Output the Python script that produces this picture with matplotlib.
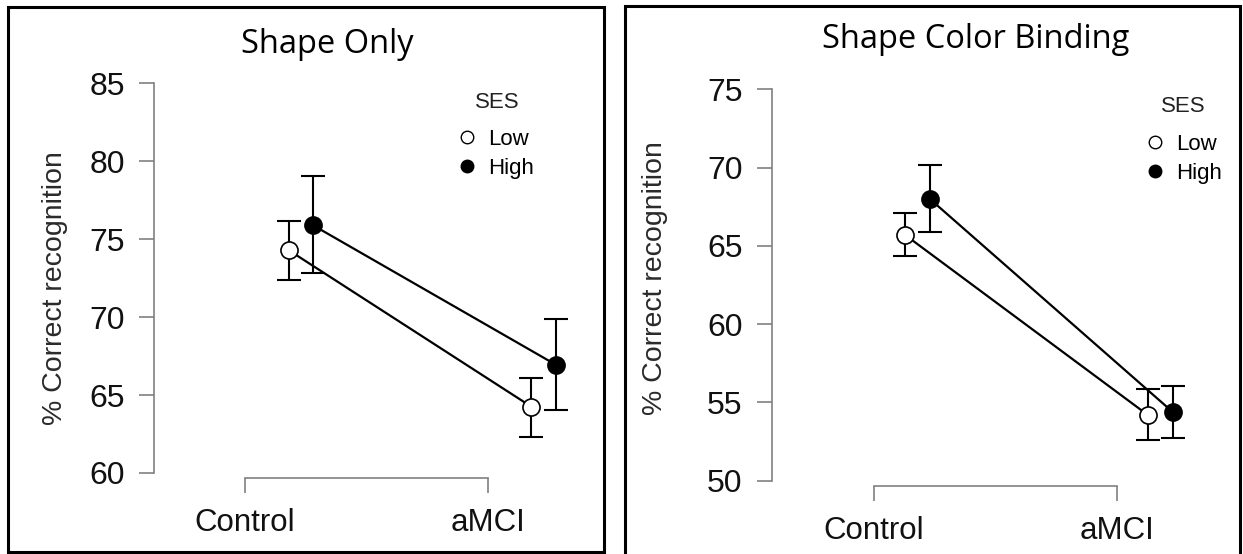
import numpy as np
import matplotlib
matplotlib.use('Agg')
import matplotlib.pyplot as plt
from matplotlib.lines import Line2D
from matplotlib.patches import Rectangle

plt.rcParams['font.family'] = ['Liberation Sans', 'DejaVu Sans']

# data
groups = ['Control', 'aMCI']
ses_levels = ['Low', 'High']

shape_low = [74.3, 64.25]
shape_low_lo = [72.35, 62.3]
shape_low_hi = [76.15, 66.1]
shape_high = [75.9, 66.95]
shape_high_lo = [72.85, 64.05]
shape_high_hi = [79.05, 69.85]

bind_low = [65.7, 54.2]
bind_low_lo = [64.35, 52.6]
bind_low_hi = [67.1, 55.85]
bind_high = [68.0, 54.4]
bind_high_lo = [65.9, 52.75]
bind_high_hi = [70.15, 56.05]

W, H = 1243, 554
fig = plt.figure(figsize=(W / 100, H / 100), dpi=100)


def box(x0, y0, x1, y1):
    # pixel box (top-left origin) -> figure fraction
    return [x0 / W, 1 - y1 / H, (x1 - x0) / W, (y1 - y0) / H]


def panel(ax, low, low_lo, low_hi, high, high_lo, high_hi, off_low, off_high):
    x = np.arange(len(groups))
    for vals, lo, hi, off, fc in [(low, low_lo, low_hi, off_low, 'white'),
                                  (high, high_lo, high_hi, off_high, 'black')]:
        v = np.array(vals)
        xs = x + off
        ax.errorbar(xs, v, yerr=[v - np.array(lo), np.array(hi) - v], fmt='none',
                    ecolor='k', elinewidth=1.5, capsize=8.8, capthick=1.5, zorder=1)
        ax.plot(xs, v, color='k', lw=1.6, zorder=2)
        ax.plot(xs, v, 'o', ms=12.3, mfc=fc, mec='k', mew=1.2, zorder=3)
    ax.set_xticks(x)
    ax.set_xticklabels(groups)
    for s in ['top', 'right']:
        ax.spines[s].set_visible(False)
    for s in ['left', 'bottom']:
        ax.spines[s].set_color('#808080')
        ax.spines[s].set_linewidth(1.2)
    ax.spines['bottom'].set_bounds(0, 1)
    ax.spines['bottom'].set_position(('outward', 3.5))
    ax.tick_params(axis='both', length=11, width=1.2, color='#808080', labelcolor='#111111')
    ax.tick_params(axis='y', pad=10, labelsize=23)
    ax.tick_params(axis='x', pad=11, labelsize=22.5)
    ax.set_facecolor('none')

    handles = [Line2D([], [], ls='none', marker='o', ms=9, mfc='white', mec='k', mew=1),
               Line2D([], [], ls='none', marker='o', ms=9, mfc='black', mec='k', mew=1)]
    return handles


# left panel: Shape Only
ax1 = fig.add_axes(box(154, 83.3, 597, 473))
h = panel(ax1, shape_low, shape_low_lo, shape_low_hi, shape_high, shape_high_lo, shape_high_hi, 0.18, 0.28)
ax1.set_xlim(-0.374, 1.45)
ax1.set_ylim(60, 85)
ax1.set_yticks([60, 65, 70, 75, 80, 85])
ax1.spines['left'].set_bounds(60, 85)
ax1.legend(h, ses_levels, loc='upper left',
           bbox_to_anchor=(455.5 / W, 1 - 129 / H), bbox_transform=fig.transFigure,
           frameon=False, fontsize=16, borderpad=0, borderaxespad=0,
           handlelength=1.0, handletextpad=0.45, labelspacing=0.35)
fig.text(497 / W, 1 - 102 / H, 'SES', ha='center', va='center', fontsize=16, color='#222222')

# right panel: Shape Color Binding
ax2 = fig.add_axes(box(771.7, 89.3, 1225.9, 480.7))
h = panel(ax2, bind_low, bind_low_lo, bind_low_hi, bind_high, bind_high_lo, bind_high_hi, 0.128, 0.23)
ax2.set_xlim(-0.4215, 1.45)
ax2.set_ylim(50, 75)
ax2.set_yticks([50, 55, 60, 65, 70, 75])
ax2.spines['left'].set_bounds(50, 75)
ax2.legend(h, ses_levels, loc='upper left',
           bbox_to_anchor=(1143.5 / W, 1 - 134 / H), bbox_transform=fig.transFigure,
           frameon=False, fontsize=16, borderpad=0, borderaxespad=0,
           handlelength=1.0, handletextpad=0.45, labelspacing=0.37)
fig.text(1183 / W, 1 - 106 / H, 'SES', ha='center', va='center', fontsize=16, color='#222222')

# titles, y labels and panel frames
fig.text(327 / W, 1 - 53.4 / H, 'Shape Only', ha='center', va='baseline',
         fontsize=23.5, family='Open Sans')
fig.text(975.5 / W, 1 - 47.7 / H, 'Shape Color Binding', ha='center', va='baseline',
         fontsize=23.5, family='Open Sans')
fig.text(55 / W, 1 - 288 / H, '% Correct recognition', rotation=90, ha='center',
         va='center', fontsize=20.5, color='#2a2a2a')
fig.text(655 / W, 1 - 278 / H, '% Correct recognition', rotation=90, ha='center',
         va='center', fontsize=20.5, color='#2a2a2a')

fig.add_artist(Rectangle((8 / W, 1 - 552 / H), 596 / W, 545 / H, transform=fig.transFigure,
                         fill=False, lw=2.2, ec='k'))
fig.add_artist(Rectangle((625 / W, 1 - 560 / H), 615 / W, 554 / H, transform=fig.transFigure,
                         fill=False, lw=2.2, ec='k', clip_on=False))

fig.savefig('out.png', dpi=100)
